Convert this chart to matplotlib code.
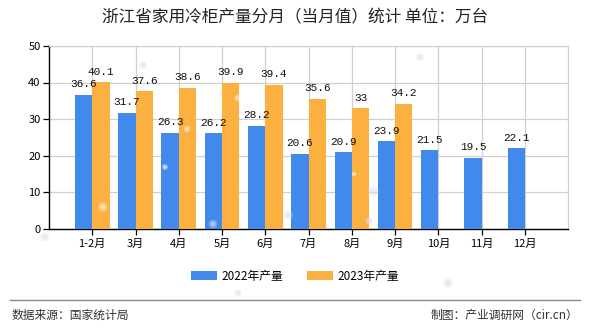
import matplotlib
matplotlib.use('Agg')
import matplotlib.pyplot as plt
import numpy as np
from matplotlib.lines import Line2D
from matplotlib.patches import Circle

plt.rcParams['font.family'] = ['Noto Sans CJK SC', 'DejaVu Sans']

months = ['1-2月', '3月', '4月', '5月', '6月', '7月', '8月', '9月', '10月', '11月', '12月']
output_2022 = [36.6, 31.7, 26.3, 26.2, 28.2, 20.6, 20.9, 23.9, 21.5, 19.5, 22.1]
output_2023 = [40.1, 37.6, 38.6, 39.9, 39.4, 35.6, 33, 34.2]

blue = '#4189ea'
orange = '#fbb040'

W, H = 590, 330
fig = plt.figure(figsize=(W / 100, H / 100), dpi=100)
ax = fig.add_axes([0.083, 0.306, 0.88, 0.555])

x = np.arange(len(months))
w = 0.4
bars1 = ax.bar(x[:len(output_2022)] - w / 2, output_2022, w, color=blue, label='2022年产量', zorder=3)
bars2 = ax.bar(x[:len(output_2023)] + w / 2, output_2023, w, color=orange, label='2023年产量', zorder=3)

# value labels over each bar
for bars, vals in ((bars1, output_2022), (bars2, output_2023)):
    for b, v in zip(bars, vals):
        ax.text(b.get_x() + b.get_width() / 2, v + 1.5, f'{v:g}', ha='center', va='bottom',
                fontsize=8, family=['Liberation Mono', 'DejaVu Sans Mono'], color='#111111', zorder=4)

ax.set_xlim(-1, 11)
ax.set_ylim(0, 50)
ax.set_yticks(range(0, 51, 10))
ax.set_xticks(x)
ax.set_xticklabels(months)
ax.grid(True, color='#d0d0d0', linewidth=0.9, zorder=0)
ax.tick_params(axis='both', labelsize=8, length=4, width=0.9, color='black', pad=2)
ax.tick_params(axis='x', pad=3)

for s in ('top', 'right'):
    ax.spines[s].set_color('#d0d0d0')
    ax.spines[s].set_linewidth(0.9)
for s in ('left', 'bottom'):
    ax.spines[s].set_color('black')
    ax.spines[s].set_linewidth(1.0)
ax.set_facecolor('white')

# soft light spots scattered over the background (pixel coords from top-left)
spots = [(103, 207, 5, 'white', 0.55), (187, 129, 3.5, 'white', 0.6), (165, 167, 3, 'white', 0.8),
         (213, 224, 4.5, 'white', 0.5), (238, 98, 4, 'white', 0.5), (354, 174, 2.5, 'white', 0.8),
         (288, 215, 5, '#dde0f5', 0.6), (373, 191, 6, '#dde0f5', 0.5), (369, 221, 4, '#dde0f5', 0.6),
         (143, 65, 4, '#dcdcf2', 0.6), (420, 57, 4, '#dcdcf2', 0.6), (448, 283, 5, '#dcdcf2', 0.6),
         (45, 237, 5, '#dcdcf2', 0.6), (238, 293, 4, '#dcdcf2', 0.6)]
for px, py, r, c, a in spots:
    for k in range(4):
        fig.add_artist(Circle((px, H - py), r * (1 - 0.2 * k), transform=None,
                              color=c, alpha=a * 0.35, lw=0, zorder=5))

fig.text(0.5, 0.945, '浙江省家用冷柜产量分月（当月值）统计 单位：万台', ha='center', va='center',
         fontsize=12, color='#222222')

fig.legend(handles=[bars1, bars2], loc='center', bbox_to_anchor=(0.5, 0.162), ncol=2,
           frameon=False, fontsize=8.5, handlelength=2.2, handleheight=0.8, columnspacing=2.0,
           handletextpad=0.4)

fig.add_artist(Line2D([0.017, 0.983], [0.09, 0.09], transform=fig.transFigure, color='#888888', linewidth=1))
fig.text(0.02, 0.045, '数据来源：国家统计局', ha='left', va='center', fontsize=8.5, color='#333333')
fig.text(0.98, 0.045, '制图：产业调研网（cir.cn）', ha='right', va='center', fontsize=8.5, color='#333333')

fig.savefig('out.png', dpi=100)
